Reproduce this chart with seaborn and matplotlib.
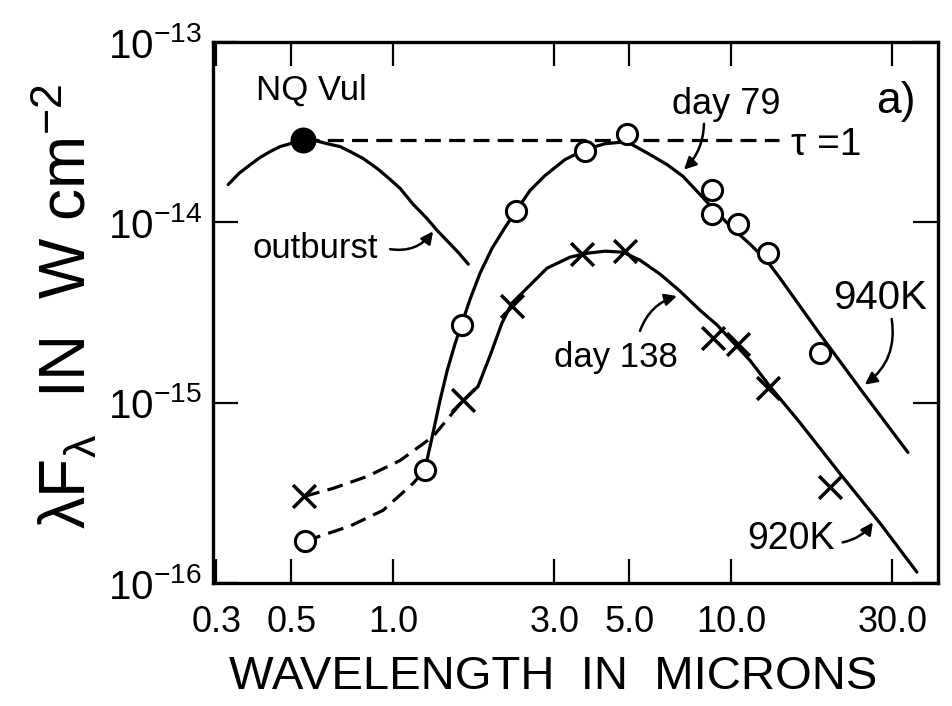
import matplotlib
matplotlib.use("Agg")
import matplotlib.pyplot as plt
from matplotlib.ticker import NullLocator, LogFormatterMathtext
import seaborn as sns

# ---- data (wavelength in microns, lambda*F_lambda in W cm^-2) ----
# outburst spectrum and its peak
outburst_wl = [0.325, 0.350, 0.378, 0.404, 0.433, 0.463, 0.496, 0.542, 0.588, 0.638,
               0.697, 0.746, 0.815, 0.897, 0.973, 1.05, 1.146, 1.26, 1.349, 1.45,
               1.557, 1.67]
outburst_flux = [1.62e-14, 1.87e-14, 2.09e-14, 2.29e-14, 2.47e-14, 2.63e-14, 2.73e-14,
                 2.87e-14, 2.84e-14, 2.73e-14, 2.63e-14, 2.47e-14, 2.26e-14, 1.99e-14,
                 1.75e-14, 1.54e-14, 1.26e-14, 1.05e-14, 9.03e-15, 7.85e-15, 6.83e-15,
                 5.86e-15]
outburst_peak_wl = [0.542]
outburst_peak_flux = [2.87e-14]

# tau = 1 level
tau_wl = [0.542, 13.9]
tau_flux = [2.87e-14, 2.87e-14]

# day 79 photometry
day79_wl = [0.549, 1.24, 1.60, 2.31, 3.70, 4.92, 8.8, 8.8, 10.5, 12.9, 18.3]
day79_flux = [1.71e-16, 4.21e-16, 2.70e-15, 1.15e-14, 2.50e-14, 3.10e-14,
              1.52e-14, 1.11e-14, 9.75e-15, 6.74e-15, 1.89e-15]

# day 138 photometry
day138_wl = [0.545, 1.61, 2.25, 3.62, 4.86, 8.85, 10.5, 12.9, 19.6]
day138_flux = [3.02e-16, 1.03e-15, 3.43e-15, 6.65e-15, 6.91e-15, 2.29e-15,
               2.12e-15, 1.21e-15, 3.39e-16]

# 940 K fit through the day 79 points
fit940_wl = [1.24, 1.304, 1.377, 1.445, 1.525, 1.60, 1.690, 1.809, 1.963, 2.145, 2.327,
             2.541, 2.818, 3.228, 3.70, 4.24, 4.92, 5.75, 6.47, 7.21, 8.09, 8.85,
             10.1, 11.4, 12.8, 13.96, 18.3, 24.4, 33.4]
fit940_flux = [4.21e-16, 6.41e-16, 1.03e-15, 1.50e-15, 2.12e-15, 2.77e-15, 3.75e-15,
               5.23e-15, 7.18e-15, 9.38e-15, 1.18e-14, 1.50e-14, 1.82e-14, 2.23e-14,
               2.53e-14, 2.73e-14, 2.80e-14, 2.38e-14, 2.09e-14, 1.80e-14, 1.43e-14,
               1.19e-14, 9.27e-15, 7.56e-15, 6.09e-15, 4.91e-15, 2.41e-15, 1.16e-15,
               5.30e-16]

# 920 K fit through the day 138 points
fit920_wl = [1.633, 1.784, 1.936, 2.101, 2.249, 2.491, 2.855, 3.34, 3.75, 4.24, 4.79,
             5.38, 6.17, 7.06, 8.09, 9.09, 11.4, 13.0, 16.0, 21.0, 27.6, 35.5]
fit920_flux = [1.05e-15, 1.23e-15, 1.82e-15, 2.77e-15, 3.57e-15, 4.32e-15, 5.57e-15,
               6.41e-15, 6.74e-15, 6.92e-15, 6.83e-15, 6.17e-15, 5.16e-15, 4.16e-15,
               3.26e-15, 2.70e-15, 1.71e-15, 1.24e-15, 7.75e-16, 4.05e-16, 2.15e-16,
               1.15e-16]

# short-wavelength dashed connections
dash79_wl = [0.549, 0.608, 0.746, 0.934, 1.146, 1.24]
dash79_flux = [1.71e-16, 1.82e-16, 2.07e-16, 2.53e-16, 3.57e-16, 4.21e-16]
dash138_wl = [0.545, 0.665, 0.838, 1.049, 1.313, 1.61]
dash138_flux = [3.02e-16, 3.35e-16, 3.90e-16, 4.78e-16, 6.49e-16, 1.03e-15]

x_ticks = [0.3, 0.5, 1.0, 3.0, 5.0, 10.0, 30.0]
x_tick_labels = ["0.3", "0.5", "1.0", "3.0", "5.0", "10.0", "30.0"]
y_ticks = [1e-16, 1e-15, 1e-14, 1e-13]

# ---- style ----
sns.set_style("ticks")
plt.rcParams["font.family"] = ["Liberation Sans", "DejaVu Sans"]
plt.rcParams["mathtext.fontset"] = "custom"
plt.rcParams["mathtext.rm"] = "Liberation Sans"
plt.rcParams["mathtext.it"] = "Liberation Sans:italic"
plt.rcParams["mathtext.bf"] = "Liberation Sans:bold"
for key in ("text.color", "axes.labelcolor", "xtick.color", "ytick.color",
            "axes.edgecolor"):
    plt.rcParams[key] = "black"

fig = plt.figure(figsize=(9.52, 7.06), dpi=100)
ax = fig.add_axes([0.2237, 0.1742, 0.7616, 0.7663])
ax.set_xscale("log")
ax.set_yscale("log")

LW = 2.3
DASH = (0, (5, 2.6))

def curve(x, y, **kw):
    sns.lineplot(x=x, y=y, ax=ax, color="black", linewidth=LW, sort=False,
                 estimator=None, legend=False, **kw)

curve(outburst_wl, outburst_flux)
curve(tau_wl, tau_flux, linestyle=DASH)
curve(fit940_wl, fit940_flux)
curve(fit920_wl, fit920_flux)
curve(dash79_wl, dash79_flux, linestyle=DASH)
curve(dash138_wl, dash138_flux, linestyle=DASH)

sns.scatterplot(x=day79_wl, y=day79_flux, ax=ax, marker="o", s=210,
                facecolor="white", edgecolor="black", linewidth=2.2, zorder=5)
sns.scatterplot(x=day138_wl, y=day138_flux, ax=ax, marker="x", s=270,
                color="black", linewidth=2.5, zorder=5)
sns.scatterplot(x=outburst_peak_wl, y=outburst_peak_flux, ax=ax, marker="o", s=300,
                color="black", edgecolor="black", zorder=6)

# ---- axes ----
ax.set_xlim(0.293, 41.0)
ax.set_ylim(1e-16, 1e-13)
ax.set_xticks(x_ticks, x_tick_labels)
ax.xaxis.set_minor_locator(NullLocator())
ax.set_yticks(y_ticks)
ax.yaxis.set_major_formatter(LogFormatterMathtext())
ax.yaxis.set_minor_locator(NullLocator())

ax.tick_params(axis="x", which="major", direction="in", length=17, width=1.6,
               top=True, bottom=True, labelsize=26, pad=16)
ax.tick_params(axis="y", which="major", direction="in", length=18, width=1.6,
               left=True, right=True, labelsize=29, pad=8)
for sp in ax.spines.values():
    sp.set_linewidth(2.4)

ax.set_xlabel("WAVELENGTH  IN  MICRONS", fontsize=34)
ax.xaxis.set_label_coords(0.469, -0.133)
ax.set_ylabel("λF$_{\\mathregular{λ}}$  IN  W cm$^{\\mathregular{-2}}$", fontsize=46)
ax.yaxis.set_label_coords(-0.156, 0.512)

# ---- annotations ----
ax.text(0.572, 5.43e-14, "NQ Vul", fontsize=25, ha="center", va="center")
ax.text(0.588, 7.18e-15, "outburst", fontsize=25, ha="center", va="center")
ax.text(9.67, 4.49e-14, "day 79", fontsize=26, ha="center", va="center")
ax.text(19.2, 2.70e-14, "τ =1", fontsize=28, ha="center", va="center")
ax.text(30.8, 4.66e-14, "a)", fontsize=32, ha="center", va="center")
ax.text(27.6, 3.80e-15, "940K", fontsize=29, ha="center", va="center")
ax.text(4.57, 1.77e-15, "day 138", fontsize=25, ha="center", va="center")
ax.text(15.1, 1.75e-16, "920K", fontsize=27, ha="center", va="center")

def arrow(tail, tip, rad):
    ax.annotate("", xy=tip, xytext=tail,
                arrowprops=dict(arrowstyle="-|>", color="black", lw=1.8,
                                mutation_scale=18,
                                connectionstyle=f"arc3,rad={rad}",
                                shrinkA=0, shrinkB=0))

arrow((0.980, 7.10e-15), (1.313, 8.91e-15), 0.3)
arrow((8.32, 3.52e-14), (7.26, 1.96e-14), -0.2)
arrow((5.38, 2.50e-15), (6.92, 3.90e-15), -0.25)
arrow((29.9, 2.91e-15), (24.9, 1.26e-15), -0.3)
arrow((21.4, 1.68e-16), (26.3, 2.17e-16), 0.2)

fig.savefig("out.png", dpi=100)
